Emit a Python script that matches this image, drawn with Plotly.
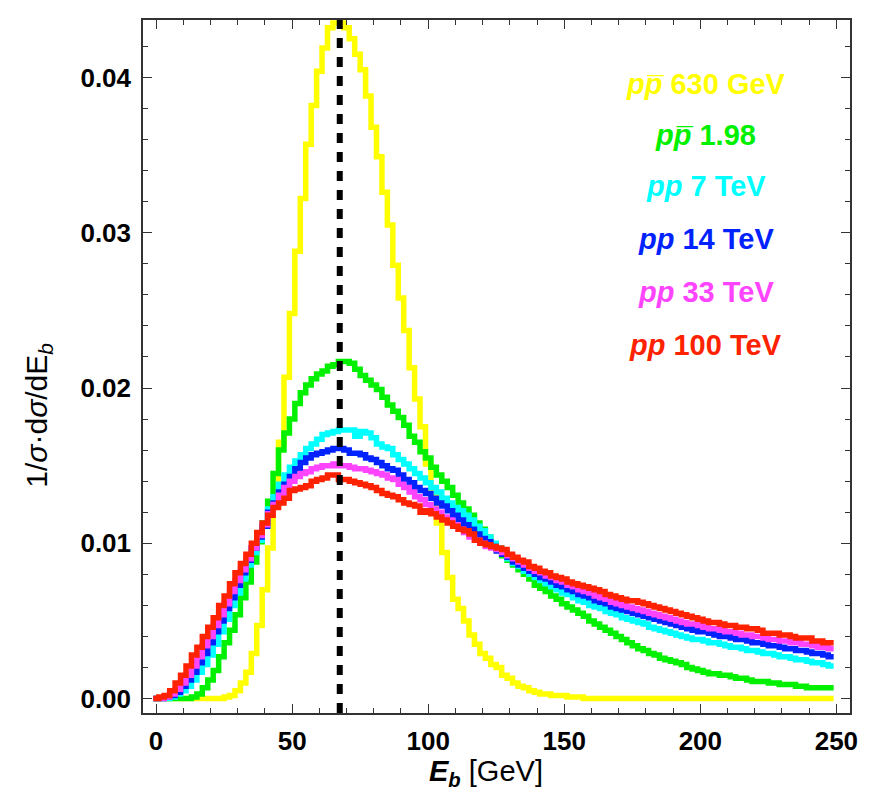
import plotly.graph_objects as go

# ---------------- data ----------------
bin_width = 2.0
bin_centers = [2 * i for i in range(125)]  # 0, 2, ..., 248 GeV

series_names = ["pp̄ 630 GeV", "pp̄ 1.98", "pp 7 TeV", "pp 14 TeV", "pp 33 TeV", "pp 100 TeV"]

y_630 = [
    0, 0, 0, 0, 0, 0, 0, 0, 0, 0,
    0, 0, 0, 0.0001, 0.0002, 0.0005, 0.0010, 0.0017, 0.0029, 0.0047,
    0.0070, 0.0097, 0.0125, 0.0165, 0.0207, 0.0248, 0.0288, 0.0322, 0.0357, 0.0382,
    0.0404, 0.0419, 0.0432, 0.0435, 0.0435, 0.0432, 0.0425, 0.0415, 0.0405, 0.0388,
    0.0368, 0.0349, 0.0326, 0.0305, 0.0279, 0.0258, 0.0237, 0.0213, 0.0193, 0.0175,
    0.0151, 0.0131, 0.0113, 0.0094, 0.0078, 0.0064, 0.0058, 0.0050, 0.0041, 0.0035,
    0.0029, 0.0026, 0.0022, 0.0020, 0.0015, 0.0013, 0.0010, 0.0008, 0.0007, 0.0005,
    0.0004, 0.0003, 0.0003, 0.0002, 0.0002, 0.0002, 0.0001, 0.0001, 0.0001, 0,
    0, 0, 0, 0, 0, 0, 0, 0, 0, 0,
    0, 0, 0, 0, 0, 0, 0, 0, 0, 0,
    0, 0, 0, 0, 0, 0, 0, 0, 0, 0,
    0, 0, 0, 0, 0, 0, 0, 0, 0, 0,
    0, 0, 0, 0, 0,
]

y_198 = [
    0, 0, 0, 0, 0, 0, 0, 0.0001, 0.0003, 0.0007,
    0.0012, 0.0018, 0.0027, 0.0036, 0.0044, 0.0054, 0.0065, 0.0075, 0.0088, 0.0101,
    0.0113, 0.0127, 0.0145, 0.0160, 0.0171, 0.0180, 0.0190, 0.0197, 0.0202, 0.0206,
    0.0209, 0.0211, 0.0214, 0.0215, 0.0217, 0.0217, 0.0216, 0.0212, 0.0208, 0.0205,
    0.0202, 0.0199, 0.0194, 0.0189, 0.0185, 0.0181, 0.0176, 0.0169, 0.0165, 0.0159,
    0.0155, 0.0149, 0.0144, 0.0140, 0.0136, 0.0131, 0.0126, 0.0122, 0.0118, 0.0113,
    0.0109, 0.0104, 0.0099, 0.0096, 0.0092, 0.0089, 0.0086, 0.0083, 0.0080, 0.0077,
    0.0073, 0.0071, 0.0069, 0.0066, 0.0064, 0.0061, 0.0059, 0.0057, 0.0055, 0.0053,
    0.0050, 0.0048, 0.0046, 0.0044, 0.0042, 0.0040, 0.0038, 0.0036, 0.0034, 0.0032,
    0.0031, 0.0029, 0.0028, 0.0026, 0.0025, 0.0024, 0.0023, 0.0022, 0.0020, 0.0019,
    0.0018, 0.0017, 0.0016, 0.0016, 0.0015, 0.0015, 0.0014, 0.0013, 0.0013, 0.0012,
    0.0011, 0.0011, 0.0011, 0.0010, 0.0010, 0.0009, 0.0009, 0.0009, 0.0008, 0.0008,
    0.0007, 0.0007, 0.0007, 0.0007, 0.0007,
]

y_7 = [
    0, 0, 0, 0.0001, 0.0003, 0.0005, 0.0008, 0.0012, 0.0017, 0.0022,
    0.0028, 0.0035, 0.0043, 0.0051, 0.0060, 0.0068, 0.0077, 0.0086, 0.0094, 0.0102,
    0.0111, 0.0122, 0.0130, 0.0138, 0.0144, 0.0149, 0.0153, 0.0157, 0.0161, 0.0164,
    0.0167, 0.0170, 0.0171, 0.0172, 0.0173, 0.0173, 0.0173, 0.0169, 0.0172, 0.0171,
    0.0168, 0.0164, 0.0162, 0.0161, 0.0157, 0.0154, 0.0151, 0.0148, 0.0145, 0.0142,
    0.0139, 0.0136, 0.0133, 0.0129, 0.0126, 0.0123, 0.0121, 0.0118, 0.0115, 0.0111,
    0.0108, 0.0104, 0.0100, 0.0097, 0.0094, 0.0090, 0.0087, 0.0085, 0.0082, 0.0080,
    0.0078, 0.0076, 0.0074, 0.0072, 0.0070, 0.0068, 0.0067, 0.0065, 0.0063, 0.0062,
    0.0060, 0.0059, 0.0058, 0.0056, 0.0055, 0.0054, 0.0052, 0.0051, 0.0050, 0.0049,
    0.0048, 0.0046, 0.0045, 0.0044, 0.0043, 0.0042, 0.0041, 0.0040, 0.0039, 0.0038,
    0.0038, 0.0037, 0.0036, 0.0036, 0.0035, 0.0034, 0.0033, 0.0033, 0.0032, 0.0031,
    0.0031, 0.0030, 0.0029, 0.0029, 0.0028, 0.0027, 0.0027, 0.0026, 0.0025, 0.0025,
    0.0024, 0.0023, 0.0023, 0.0022, 0.0021,
]

y_14 = [
    0, 0, 0.0001, 0.0002, 0.0004, 0.0008, 0.0012, 0.0017, 0.0023, 0.0029,
    0.0036, 0.0043, 0.0050, 0.0058, 0.0065, 0.0073, 0.0081, 0.0089, 0.0097, 0.0104,
    0.0111, 0.0120, 0.0126, 0.0133, 0.0138, 0.0143, 0.0148, 0.0152, 0.0155, 0.0157,
    0.0158, 0.0159, 0.0160, 0.0161, 0.0161, 0.0160, 0.0158, 0.0158, 0.0157, 0.0155,
    0.0154, 0.0152, 0.0150, 0.0148, 0.0147, 0.0144, 0.0141, 0.0139, 0.0136, 0.0134,
    0.0132, 0.0129, 0.0126, 0.0124, 0.0121, 0.0118, 0.0115, 0.0112, 0.0109, 0.0106,
    0.0103, 0.0101, 0.0098, 0.0095, 0.0093, 0.0091, 0.0088, 0.0086, 0.0084, 0.0082,
    0.0080, 0.0078, 0.0077, 0.0075, 0.0073, 0.0072, 0.0070, 0.0069, 0.0067, 0.0066,
    0.0065, 0.0063, 0.0062, 0.0061, 0.0059, 0.0058, 0.0057, 0.0056, 0.0055, 0.0054,
    0.0053, 0.0052, 0.0051, 0.0050, 0.0049, 0.0048, 0.0047, 0.0046, 0.0045, 0.0044,
    0.0043, 0.0043, 0.0042, 0.0041, 0.0040, 0.0040, 0.0039, 0.0038, 0.0038, 0.0037,
    0.0036, 0.0036, 0.0035, 0.0034, 0.0034, 0.0033, 0.0032, 0.0032, 0.0031, 0.0031,
    0.0030, 0.0029, 0.0029, 0.0028, 0.0027,
]

y_33 = [
    0, 0, 0.0001, 0.0003, 0.0006, 0.0010, 0.0015, 0.0021, 0.0027, 0.0034,
    0.0040, 0.0047, 0.0054, 0.0061, 0.0069, 0.0076, 0.0083, 0.0090, 0.0097, 0.0105,
    0.0112, 0.0119, 0.0125, 0.0131, 0.0136, 0.0140, 0.0143, 0.0145, 0.0146, 0.0148,
    0.0149, 0.0150, 0.0150, 0.0151, 0.0150, 0.0150, 0.0149, 0.0148, 0.0148, 0.0147,
    0.0146, 0.0145, 0.0144, 0.0142, 0.0141, 0.0138, 0.0136, 0.0133, 0.0130, 0.0128,
    0.0125, 0.0122, 0.0120, 0.0117, 0.0115, 0.0112, 0.0109, 0.0107, 0.0104, 0.0102,
    0.0100, 0.0098, 0.0097, 0.0096, 0.0094, 0.0092, 0.0090, 0.0088, 0.0086, 0.0084,
    0.0082, 0.0081, 0.0079, 0.0078, 0.0076, 0.0075, 0.0073, 0.0072, 0.0070, 0.0069,
    0.0068, 0.0066, 0.0065, 0.0064, 0.0062, 0.0061, 0.0060, 0.0059, 0.0058, 0.0057,
    0.0056, 0.0055, 0.0054, 0.0053, 0.0052, 0.0051, 0.0050, 0.0049, 0.0048, 0.0048,
    0.0047, 0.0046, 0.0045, 0.0045, 0.0044, 0.0043, 0.0043, 0.0042, 0.0041, 0.0041,
    0.0040, 0.0040, 0.0039, 0.0038, 0.0038, 0.0037, 0.0037, 0.0036, 0.0036, 0.0035,
    0.0035, 0.0034, 0.0033, 0.0033, 0.0032,
]

y_100 = [
    0, 0.0001, 0.0002, 0.0005, 0.0010, 0.0015, 0.0021, 0.0028, 0.0033, 0.0040,
    0.0046, 0.0052, 0.0060, 0.0066, 0.0074, 0.0081, 0.0087, 0.0093, 0.0100, 0.0107,
    0.0113, 0.0118, 0.0123, 0.0126, 0.0129, 0.0134, 0.0135, 0.0136, 0.0137, 0.0140,
    0.0141, 0.0142, 0.0144, 0.0144, 0.0141, 0.0141, 0.0140, 0.0139, 0.0138, 0.0137,
    0.0136, 0.0134, 0.0132, 0.0131, 0.0130, 0.0128, 0.0126, 0.0125, 0.0124, 0.0120,
    0.0121, 0.0119, 0.0117, 0.0115, 0.0113, 0.0111, 0.0109, 0.0108, 0.0106, 0.0102,
    0.0100, 0.0099, 0.0098, 0.0097, 0.0096, 0.0093, 0.0091, 0.0089, 0.0088, 0.0085,
    0.0084, 0.0082, 0.0081, 0.0079, 0.0078, 0.0077, 0.0075, 0.0074, 0.0073, 0.0072,
    0.0071, 0.0070, 0.0069, 0.0067, 0.0066, 0.0065, 0.0064, 0.0063, 0.0063, 0.0062,
    0.0061, 0.0060, 0.0059, 0.0058, 0.0057, 0.0056, 0.0055, 0.0054, 0.0053, 0.0052,
    0.0051, 0.0050, 0.0049, 0.0049, 0.0048, 0.0047, 0.0047, 0.0046, 0.0046, 0.0045,
    0.0045, 0.0044, 0.0042, 0.0042, 0.0042, 0.0041, 0.0041, 0.0040, 0.0039, 0.0039,
    0.0039, 0.0037, 0.0037, 0.0036, 0.0036,
]

series_values = [y_630, y_198, y_7, y_14, y_33, y_100]
series_colors = ["#FFFF00", "#00F000", "#00FFFF", "#0022FF", "#FF44FF", "#FF2200"]

peak_marker_x = 67.5  # dashed vertical line [GeV]

x_tick_vals = [0, 50, 100, 150, 200, 250]
x_tick_text = ["0", "50", "100", "150", "200", "250"]
y_tick_vals = [0.0, 0.01, 0.02, 0.03, 0.04]
y_tick_text = ["0.00", "0.01", "0.02", "0.03", "0.04"]

label_html = [
    "<b><i>pp\u0305</i> 630 GeV</b>",
    "<b><i>pp\u0305</i> 1.98</b>",
    "<b><i>pp</i> 7 TeV</b>",
    "<b><i>pp</i> 14 TeV</b>",
    "<b><i>pp</i> 33 TeV</b>",
    "<b><i>pp</i> 100 TeV</b>",
]
label_x = 202.0
label_y = [0.0396, 0.0363, 0.0330, 0.0296, 0.0262, 0.0228]

# ---------------- figure ----------------
FONT = "Liberation Sans, Arial, Helvetica, sans-serif"
fig = go.Figure()

edges = [c - bin_width / 2 for c in bin_centers] + [bin_centers[-1] + bin_width / 2]
for name, vals, col in zip(series_names, series_values, series_colors):
    fig.add_trace(go.Scatter(
        x=edges, y=list(vals) + [vals[-1]], mode="lines", name=name,
        line=dict(color=col, width=5.5, shape="hv"), showlegend=False,
    ))

fig.add_shape(type="line", xref="x", yref="paper", x0=peak_marker_x, x1=peak_marker_x,
              y0=0, y1=1, line=dict(color="black", width=6, dash="10px,9px"))

for txt, yy, col in zip(label_html, label_y, series_colors):
    fig.add_annotation(x=label_x, y=yy, xref="x", yref="y", text=txt, showarrow=False,
                       font=dict(family=FONT, size=29, color=col), xanchor="center", yanchor="middle")

fig.add_annotation(xref="paper", yref="paper", x=0.485, y=-0.086, xanchor="center", yanchor="middle",
                   text="<b><i>E<sub>b</sub></i></b> [GeV]", showarrow=False,
                   font=dict(family=FONT, size=29, color="black"))
fig.add_annotation(xref="paper", yref="paper", x=-0.149, y=0.43, xanchor="center", yanchor="middle",
                   textangle=-90,
                   text="1/<i>σ</i>·d<i>σ</i>/dE<sub><i>b</i></sub>", showarrow=False,
                   font=dict(family=FONT, size=30, color="black"))

axis_common = dict(showline=True, linecolor="#333333", linewidth=1.5, mirror="ticks",
                   ticks="inside", tickcolor="#333333", tickwidth=1.3, ticklen=9,
                   showgrid=False, zeroline=False,
                   tickfont=dict(family=FONT, size=26, color="black", weight="bold"))

fig.update_xaxes(range=[-4.8, 255], tickvals=x_tick_vals, ticktext=x_tick_text,
                 minor=dict(dtick=10, tick0=0, ticks="inside", ticklen=5, tickcolor="#333333"),
                 ticklabelstandoff=4, **axis_common)
fig.update_yaxes(range=[-0.00093, 0.0437], tickvals=y_tick_vals, ticktext=y_tick_text,
                 minor=dict(dtick=0.002, tick0=0, ticks="inside", ticklen=5, tickcolor="#333333"),
                 ticklabelstandoff=5, **axis_common)

# page body has an 8px margin: figure is placed at (8, 8) in the window
fig.update_layout(width=860, height=782, margin=dict(l=135, r=16, t=10, b=77),
                  plot_bgcolor="white", paper_bgcolor="white", showlegend=False)

fig.write_html("out.html")
